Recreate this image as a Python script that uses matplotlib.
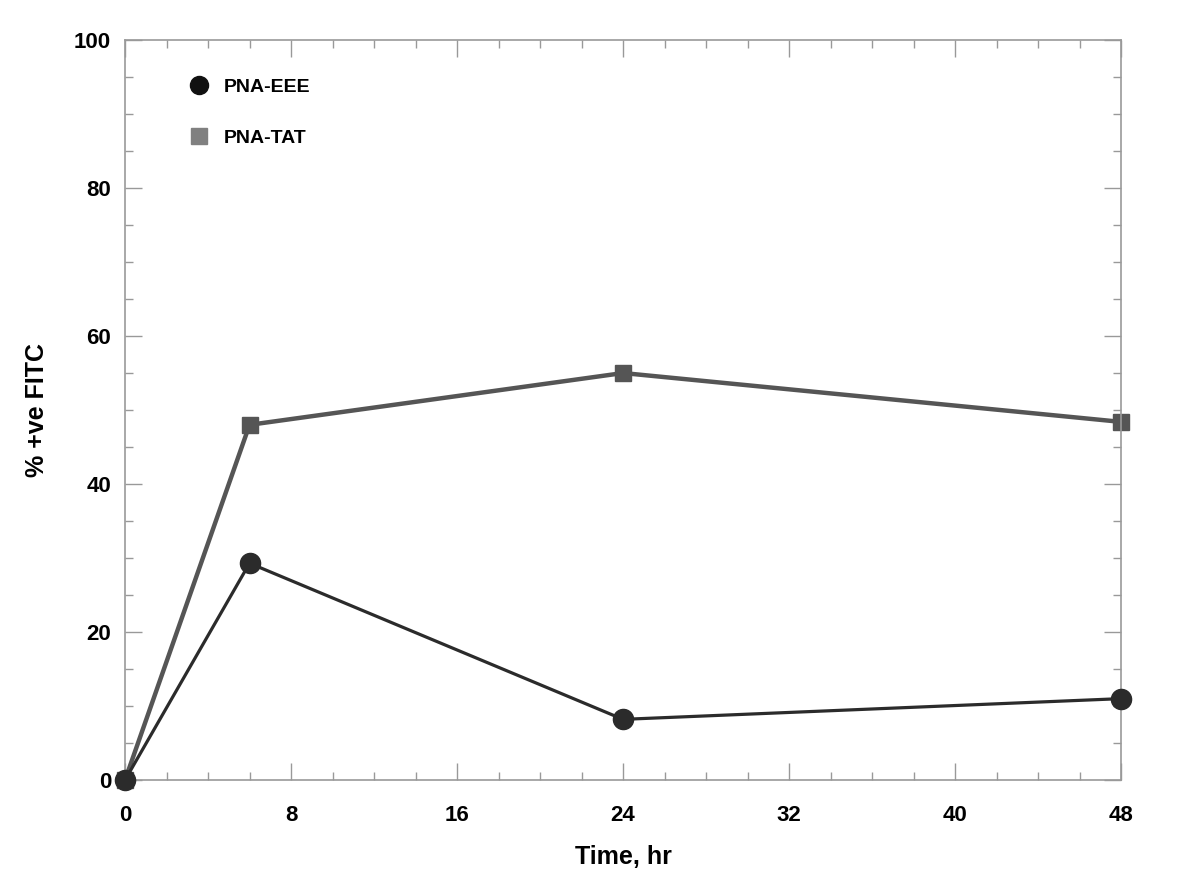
import matplotlib
matplotlib.use('Agg')
import matplotlib.pyplot as plt
from matplotlib.lines import Line2D
from matplotlib.ticker import MultipleLocator

plt.rcParams['font.family'] = ['Liberation Sans', 'DejaVu Sans']
plt.rcParams['font.weight'] = 'bold'

# data
time_hr = [0, 6, 24, 48]
pna_eee = [0, 29.3, 8.2, 11.0]
pna_tat = [0, 48.0, 55.0, 48.4]
xticks = [0, 8, 16, 24, 32, 40, 48]
yticks = [0, 20, 40, 60, 80, 100]

fig = plt.figure(figsize=(12, 8.8), dpi=100)
ax = fig.add_axes([0.1042, 0.1136, 0.8300, 0.8409])

ax.plot(time_hr, pna_eee, color='#2b2b2b', lw=2.3, marker='o', ms=14.5,
        markerfacecolor='#2b2b2b', markeredgecolor='#2b2b2b', zorder=3,
        clip_on=False)
ax.plot(time_hr, pna_tat, color='#555555', lw=3.2, marker='s', ms=11.5,
        markerfacecolor='#555555', markeredgecolor='#555555', zorder=2,
        clip_on=False)

ax.set_xlim(0, 48)
ax.set_ylim(0, 100)
ax.set_xticks(xticks)
ax.set_yticks(yticks)
ax.xaxis.set_minor_locator(MultipleLocator(2))
ax.yaxis.set_minor_locator(MultipleLocator(5))
ax.tick_params(which='both', direction='in', top=True, right=True,
               color='#999999', width=1.0, labelsize=16)
ax.tick_params(axis='x', pad=18)
ax.tick_params(axis='y', pad=10)
ax.tick_params(which='major', length=12)
ax.tick_params(which='minor', length=6)
for s in ax.spines.values():
    s.set_color('#999999')
    s.set_linewidth(1.2)
for lbl in ax.get_xticklabels() + ax.get_yticklabels():
    lbl.set_fontweight('bold')

ax.set_xlabel('Time, hr', fontsize=18, fontweight='bold', labelpad=14)
ax.set_ylabel('% +ve FITC', fontsize=18, fontweight='bold', labelpad=18)

handles = [
    Line2D([], [], ls='none', marker='o', ms=13, color='#111111'),
    Line2D([], [], ls='none', marker='s', ms=12, color='#808080'),
]
ax.legend(handles, ['PNA-EEE', 'PNA-TAT'], loc='upper left',
          bbox_to_anchor=(0.037, 0.972), frameon=False,
          labelspacing=1.7, handletextpad=0.3,
          prop={'weight': 'bold', 'size': 14})

fig.savefig('out.png', dpi=100)
